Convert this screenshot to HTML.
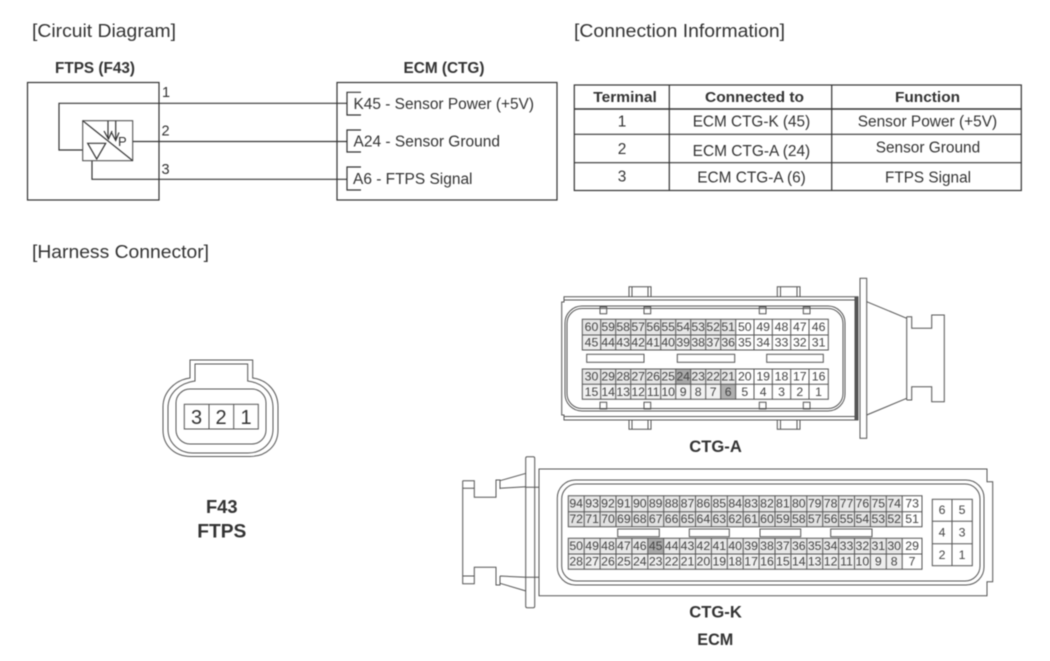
<!DOCTYPE html>
<html><head><meta charset="utf-8"><style>
html,body{margin:0;padding:0;background:#fff;width:1050px;height:661px;overflow:hidden}
svg{display:block;filter:blur(.45px)}
text{font-family:"Liberation Sans",sans-serif;fill:#333}
.b{font-weight:bold}
.l{fill:none;stroke:#333;stroke-width:1.2}
.g{fill:none;stroke:#555;stroke-width:1}
.a text{font-size:12.3px;text-anchor:middle;fill:#444}
.m{text-anchor:middle}
</style></head><body>
<svg width="1050" height="661" viewBox="0 0 1050 661" xmlns="http://www.w3.org/2000/svg">
<rect width="1050" height="661" fill="#fff"/>
<text x="32" y="37" font-size="18.3" textLength="144" lengthAdjust="spacingAndGlyphs">[Circuit Diagram]</text>
<text x="574" y="37" font-size="18.3" textLength="211" lengthAdjust="spacingAndGlyphs">[Connection Information]</text>
<text x="32" y="258" font-size="18.3" textLength="177" lengthAdjust="spacingAndGlyphs">[Harness Connector]</text>

<!-- circuit -->
<text x="55" y="73" class="b" font-size="15.3" textLength="80" lengthAdjust="spacingAndGlyphs">FTPS (F43)</text>
<text x="403.5" y="73" class="b" font-size="15.3" textLength="81" lengthAdjust="spacingAndGlyphs">ECM (CTG)</text>
<rect x="27.5" y="82.5" width="131.5" height="117.5" class="l"/>
<rect x="337" y="82.5" width="220" height="117.5" class="l"/>
<path class="l" d="M82.7 150H59V103.3H347M132.7 141.5H347M92 160.7V179.3H347"/>
<rect x="82.7" y="120.7" width="50" height="40" fill="#fff" stroke="#444" stroke-width="1"/>
<path class="l" d="M82.7 120.7L132.7 160.7M87.7 143.3H105.7L96.7 159ZM108 121V139M115.7 121V140M104 131L108.5 139L112 131M111.5 132.5L115.7 140.5L119 132.5"/>
<text x="118" y="146" font-size="13">P</text>
<text x="162" y="97" font-size="14.5">1</text>
<text x="161.5" y="135.5" font-size="14.5">2</text>
<text x="161.5" y="174" font-size="14.5">3</text>
<path class="l" d="M361 92.3H347V115H361M361 130H347V152H361M361 167H347V190H361"/>
<text x="353.5" y="109" font-size="15.4" textLength="180.5" lengthAdjust="spacingAndGlyphs">K45 - Sensor Power (+5V)</text>
<text x="353.5" y="146.5" font-size="15.4" textLength="146.5" lengthAdjust="spacingAndGlyphs">A24 - Sensor Ground</text>
<text x="353" y="184" font-size="15.4" textLength="119.5" lengthAdjust="spacingAndGlyphs">A6 - FTPS Signal</text>

<!-- table -->
<rect x="574.3" y="85" width="447" height="105.5" class="l"/>
<path class="l" d="M669.3 85V190.5M831.7 85V190.5M574.3 134.3H1021M574.3 162.7H1021"/>
<path d="M574.3 109H1021" fill="none" stroke="#333" stroke-width="1.6"/>
<text x="593.3" y="102" class="b" font-size="15.2" textLength="63.5" lengthAdjust="spacingAndGlyphs">Terminal</text>
<text x="705" y="102" class="b" font-size="15.2" textLength="99" lengthAdjust="spacingAndGlyphs">Connected to</text>
<text x="895" y="102" class="b" font-size="15.2" textLength="65" lengthAdjust="spacingAndGlyphs">Function</text>
<text x="622" y="126.5" class="m" font-size="15.4">1</text>
<text x="622" y="154" class="m" font-size="15.4">2</text>
<text x="622" y="181.5" class="m" font-size="15.4">3</text>
<text x="692.7" y="126.5" font-size="15.4" textLength="117.5" lengthAdjust="spacingAndGlyphs">ECM CTG-K (45)</text>
<text x="692.7" y="156" font-size="15.4" textLength="117.5" lengthAdjust="spacingAndGlyphs">ECM CTG-A (24)</text>
<text x="697.3" y="182.5" font-size="15.4" textLength="108.5" lengthAdjust="spacingAndGlyphs">ECM CTG-A (6)</text>
<text x="857.7" y="126.5" font-size="15.4" textLength="139.5" lengthAdjust="spacingAndGlyphs">Sensor Power (+5V)</text>
<text x="875.7" y="152.5" font-size="15.4" textLength="104.5" lengthAdjust="spacingAndGlyphs">Sensor Ground</text>
<text x="885" y="182.5" font-size="15.4" textLength="86" lengthAdjust="spacingAndGlyphs">FTPS Signal</text>

<!-- F43 connector -->
<path class="g" stroke-width="1.1" d="M190 378V360H252.7V378C268 380 278 392 278 407V430C278 446 266 456.5 250 456.5H191C175 456.5 163 446 163 430V407C163 392 175 380 190 378Z"/>
<path class="g" d="M195 381V364H247.7V381C263 383 273 393 273 408V429C273 443 262 453 248 453H193C179 453 168 443 168 429V408C168 393 180 383 195 381Z"/>
<rect x="176" y="389" width="90" height="55" rx="14" class="g"/>
<rect x="184.3" y="404.3" width="74" height="24.7" class="g"/>
<path class="g" d="M209 404.3V429M233.7 404.3V429"/>
<text x="196.5" y="424" class="m" font-size="20">3</text>
<text x="221" y="424" class="m" font-size="20">2</text>
<text x="246" y="424" class="m" font-size="20">1</text>
<text x="206" y="513" class="b" font-size="18.3" textLength="31.5" lengthAdjust="spacingAndGlyphs">F43</text>
<text x="197.3" y="537.5" class="b" font-size="19" textLength="49" lengthAdjust="spacingAndGlyphs">FTPS</text>

<!-- CTG-A -->
<path class="g" d="M564 296.7H858V420H564V415H561.7V302H564ZM564 300H855V416.5H564M855 297V420"/>
<path d="M856.5 297V420" stroke="#555" stroke-width="2.5"/>
<rect x="860" y="278.3" width="6.7" height="160" class="g" fill="#fff"/>
<path class="g" d="M866.7 301.7L906.7 318.3M866.7 415L906.7 398.3M906.7 316.7V400M906.7 316.7H911.7V328.3H931.7V315H944.3V401.7H931.7V386.7H911.7V400H906.7"/>
<path class="g" fill="#fff" d="M629 297V286.7H651V297M777.3 297V286.7H800V297M629 420V429.3H651V420M777.3 420V429.3H800V420M632 287V297M648 287V297M780.5 287V297M797 287V297M632 420V429M648 420V429M780.5 420V429M797 420V429"/>
<rect x="565" y="306" width="280" height="105" rx="17" class="g" stroke-width="1.2"/>
<rect x="567" y="308.5" width="276" height="100" rx="15" class="g" stroke="#888"/>
<path class="g" fill="#fff" d="M600 307H606.7V313.7H600ZM644 307H650.7V313.7H644ZM759.3 307H766V313.7H759.3ZM803.3 307H810V313.7H803.3ZM600 402.3H606.7V409H600ZM644 402.3H650.7V409H644ZM759.3 402.3H766V409H759.3ZM803.3 402.3H810V409H803.3Z"/>
<rect x="582.3" y="319.3" width="153.4" height="15.7" fill="#e6e6e6"/>
<rect x="582.3" y="335" width="153.4" height="15" fill="#ededed"/>
<rect x="582.3" y="369" width="153.4" height="15.3" fill="#e6e6e6"/>
<rect x="582.3" y="384.3" width="153.4" height="15" fill="#f2f2f2"/>
<rect x="675.7" y="369" width="15" height="15.3" fill="#a8a8a8"/>
<rect x="720.7" y="384.3" width="15" height="15" fill="#b0b0b0"/>
<path class="g" d="M582.3 319.3H828.3V350H582.3ZM582.3 335H828.3M582.3 369H828.3V399.3H582.3ZM582.3 384.3H828.3"/>
<path class="g" stroke-dasharray="30.7 19" d="M600.7 319.3V399.3M615.7 319.3V399.3M630.7 319.3V399.3M645.7 319.3V399.3M660.7 319.3V399.3M675.7 319.3V399.3M690.7 319.3V399.3M705.7 319.3V399.3M720.7 319.3V399.3M735.7 319.3V399.3M754 319.3V399.3M772.3 319.3V399.3M790.7 319.3V399.3M809 319.3V399.3"/>
<rect x="586.7" y="354.3" width="57.3" height="8" class="g" fill="#fff"/>
<rect x="677.3" y="354.3" width="57.4" height="8" class="g" fill="#fff"/>
<rect x="766.7" y="354.3" width="56.6" height="8" class="g" fill="#fff"/>
<g class="a">
<text x="591.5" y="331">60</text><text x="608.2" y="331">59</text><text x="623.2" y="331">58</text><text x="638.2" y="331">57</text><text x="653.2" y="331">56</text><text x="668.2" y="331">55</text><text x="683.2" y="331">54</text><text x="698.2" y="331">53</text><text x="713.2" y="331">52</text><text x="728.2" y="331">51</text><text x="744.8" y="331">50</text><text x="763.2" y="331">49</text><text x="781.5" y="331">48</text><text x="799.8" y="331">47</text><text x="818.6" y="331">46</text>
<text x="591.5" y="346.5">45</text><text x="608.2" y="346.5">44</text><text x="623.2" y="346.5">43</text><text x="638.2" y="346.5">42</text><text x="653.2" y="346.5">41</text><text x="668.2" y="346.5">40</text><text x="683.2" y="346.5">39</text><text x="698.2" y="346.5">38</text><text x="713.2" y="346.5">37</text><text x="728.2" y="346.5">36</text><text x="744.8" y="346.5">35</text><text x="763.2" y="346.5">34</text><text x="781.5" y="346.5">33</text><text x="799.8" y="346.5">32</text><text x="818.6" y="346.5">31</text>
<text x="591.5" y="380.5">30</text><text x="608.2" y="380.5">29</text><text x="623.2" y="380.5">28</text><text x="638.2" y="380.5">27</text><text x="653.2" y="380.5">26</text><text x="668.2" y="380.5">25</text><text x="683.2" y="380.5">24</text><text x="698.2" y="380.5">23</text><text x="713.2" y="380.5">22</text><text x="728.2" y="380.5">21</text><text x="744.8" y="380.5">20</text><text x="763.2" y="380.5">19</text><text x="781.5" y="380.5">18</text><text x="799.8" y="380.5">17</text><text x="818.6" y="380.5">16</text>
<text x="591.5" y="396">15</text><text x="608.2" y="396">14</text><text x="623.2" y="396">13</text><text x="638.2" y="396">12</text><text x="653.2" y="396">11</text><text x="668.2" y="396">10</text><text x="683.2" y="396">9</text><text x="698.2" y="396">8</text><text x="713.2" y="396">7</text><text x="728.2" y="396">6</text><text x="744.8" y="396">5</text><text x="763.2" y="396">4</text><text x="781.5" y="396">3</text><text x="799.8" y="396">2</text><text x="818.6" y="396">1</text>
</g>
<text x="689.3" y="452" class="b" font-size="16.5" textLength="52.5" lengthAdjust="spacingAndGlyphs">CTG-A</text>

<!-- CTG-K -->
<path class="g" d="M539 469H987V481.7H992.7V581.7H987V595.7H539Z"/>
<rect x="557.3" y="480" width="426.7" height="105" rx="18" class="g" stroke-width="1.2"/>
<rect x="561.7" y="484" width="418.3" height="97" rx="15" class="g"/>
<rect x="525.7" y="456.7" width="9" height="151" rx="1.5" class="g" fill="#fff"/>
<path class="g" d="M526 473.3L500 480.7M526 486.7L500 488.3M526 577.3L500 576M526 591L500 583.3M526 487.3H539M526 577.3H539M462.7 480.7H474.3V497.3H496V480H500V489M462.7 480.7V583.7H474.3V567.3H496V585H500V576M462.7 488.3H474.3M462.7 576H474.3"/>
<rect x="568.3" y="495.7" width="334" height="16" fill="#e8e8e8"/>
<rect x="568.3" y="511.7" width="334" height="15" fill="#e2e2e2"/>
<rect x="568.3" y="538.3" width="334" height="15.7" fill="#e8e8e8"/>
<rect x="568.3" y="554" width="334" height="15.3" fill="#eeeeee"/>
<rect x="647.8" y="538.3" width="15.9" height="15.7" fill="#a8a8a8"/>
<path class="g" d="M568.3 495.7H922V526.7H568.3ZM568.3 511.7H922M568.3 538.3H922V569.3H568.3ZM568.3 554H922"/>
<path class="g" stroke-dasharray="31 11.6" d="M584.2 495.7V569.3M600.1 495.7V569.3M616 495.7V569.3M631.9 495.7V569.3M647.8 495.7V569.3M663.7 495.7V569.3M679.6 495.7V569.3M695.5 495.7V569.3M711.4 495.7V569.3M727.3 495.7V569.3M743.2 495.7V569.3M759.1 495.7V569.3M775 495.7V569.3M790.9 495.7V569.3M806.8 495.7V569.3M822.7 495.7V569.3M838.6 495.7V569.3M854.5 495.7V569.3M870.4 495.7V569.3M886.3 495.7V569.3M902.2 495.7V569.3"/>
<rect x="617.7" y="529" width="41.6" height="7.7" class="g" fill="#fff"/>
<rect x="689.3" y="529" width="40" height="7.7" class="g" fill="#fff"/>
<rect x="760" y="529" width="40.7" height="7.7" class="g" fill="#fff"/>
<rect x="830.7" y="529" width="41.3" height="7.7" class="g" fill="#fff"/>
<g class="a">
<text x="576.2" y="507.5">94</text><text x="592.1" y="507.5">93</text><text x="608" y="507.5">92</text><text x="623.9" y="507.5">91</text><text x="639.8" y="507.5">90</text><text x="655.7" y="507.5">89</text><text x="671.6" y="507.5">88</text><text x="687.5" y="507.5">87</text><text x="703.4" y="507.5">86</text><text x="719.3" y="507.5">85</text><text x="735.2" y="507.5">84</text><text x="751.1" y="507.5">83</text><text x="767" y="507.5">82</text><text x="782.9" y="507.5">81</text><text x="798.8" y="507.5">80</text><text x="814.7" y="507.5">79</text><text x="830.6" y="507.5">78</text><text x="846.5" y="507.5">77</text><text x="862.4" y="507.5">76</text><text x="878.3" y="507.5">75</text><text x="894.2" y="507.5">74</text><text x="912.1" y="507.5">73</text>
<text x="576.2" y="523">72</text><text x="592.1" y="523">71</text><text x="608" y="523">70</text><text x="623.9" y="523">69</text><text x="639.8" y="523">68</text><text x="655.7" y="523">67</text><text x="671.6" y="523">66</text><text x="687.5" y="523">65</text><text x="703.4" y="523">64</text><text x="719.3" y="523">63</text><text x="735.2" y="523">62</text><text x="751.1" y="523">61</text><text x="767" y="523">60</text><text x="782.9" y="523">59</text><text x="798.8" y="523">58</text><text x="814.7" y="523">57</text><text x="830.6" y="523">56</text><text x="846.5" y="523">55</text><text x="862.4" y="523">54</text><text x="878.3" y="523">53</text><text x="894.2" y="523">52</text><text x="912.1" y="523">51</text>
<text x="576.2" y="550">50</text><text x="592.1" y="550">49</text><text x="608" y="550">48</text><text x="623.9" y="550">47</text><text x="639.8" y="550">46</text><text x="655.7" y="550">45</text><text x="671.6" y="550">44</text><text x="687.5" y="550">43</text><text x="703.4" y="550">42</text><text x="719.3" y="550">41</text><text x="735.2" y="550">40</text><text x="751.1" y="550">39</text><text x="767" y="550">38</text><text x="782.9" y="550">37</text><text x="798.8" y="550">36</text><text x="814.7" y="550">35</text><text x="830.6" y="550">34</text><text x="846.5" y="550">33</text><text x="862.4" y="550">32</text><text x="878.3" y="550">31</text><text x="894.2" y="550">30</text><text x="912.1" y="550">29</text>
<text x="576.2" y="565.5">28</text><text x="592.1" y="565.5">27</text><text x="608" y="565.5">26</text><text x="623.9" y="565.5">25</text><text x="639.8" y="565.5">24</text><text x="655.7" y="565.5">23</text><text x="671.6" y="565.5">22</text><text x="687.5" y="565.5">21</text><text x="703.4" y="565.5">20</text><text x="719.3" y="565.5">19</text><text x="735.2" y="565.5">18</text><text x="751.1" y="565.5">17</text><text x="767" y="565.5">16</text><text x="782.9" y="565.5">15</text><text x="798.8" y="565.5">14</text><text x="814.7" y="565.5">13</text><text x="830.6" y="565.5">12</text><text x="846.5" y="565.5">11</text><text x="862.4" y="565.5">10</text><text x="878.3" y="565.5">9</text><text x="894.2" y="565.5">8</text><text x="912.1" y="565.5">7</text>
<text x="942" y="514">6</text><text x="962" y="514">5</text>
<text x="942" y="536.5">4</text><text x="962" y="536.5">3</text>
<text x="942" y="559">2</text><text x="962" y="559">1</text>
</g>
<rect x="932.3" y="499.3" width="40" height="66.4" class="g"/>
<path class="g" d="M952 499.3V565.7M932.3 521.3H972.3M932.3 543.7H972.3"/>
<text x="689.3" y="617.5" class="b" font-size="16.5" textLength="52.5" lengthAdjust="spacingAndGlyphs">CTG-K</text>
<text x="697.3" y="645" class="b" font-size="16.2" textLength="36" lengthAdjust="spacingAndGlyphs">ECM</text>
</svg>
</body></html>
